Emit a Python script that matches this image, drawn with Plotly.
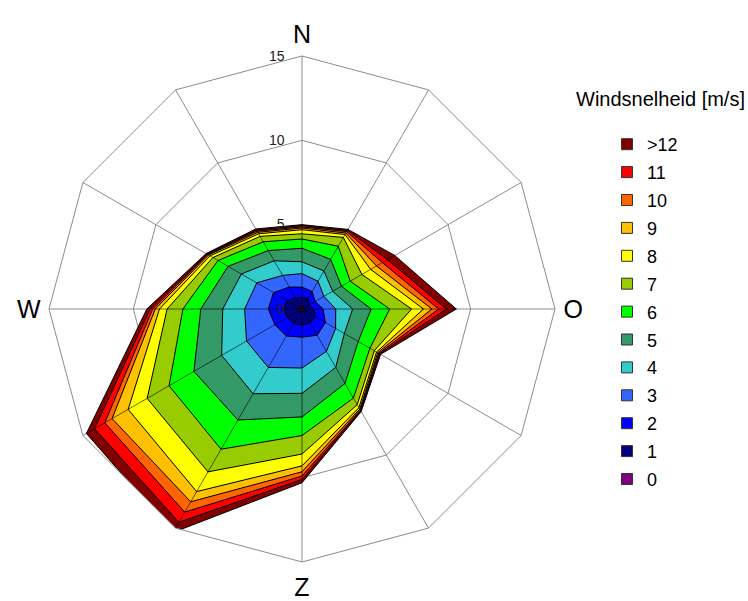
import plotly.graph_objects as go

# Directions (clockwise from north, 30 degree sectors)
theta = ["N", "NNO", "ONO", "O", "OZO", "ZZO", "Z", "ZZW", "WZW", "W", "WNW", "NNW"]
dir_labels = ["N", "", "", "O", "", "", "Z", "", "", "W", "", ""]

# Cumulative outer radius of each wind-speed class per direction
ws_0 = [0.15, 0.15, 0.12, 0.15, 0.15, 0.15, 0.15, 0.15, 0.15, 0.18, 0.15, 0.15]
ws_1 = [0.70, 0.70, 0.50, 0.70, 0.90, 0.95, 0.95, 1.00, 1.00, 1.10, 1.00, 0.75]
ws_2 = [1.30, 1.20, 0.90, 1.25, 1.60, 1.80, 1.67, 1.85, 1.86, 2.00, 1.95, 1.50]
ws_3 = [2.10, 1.90, 1.50, 2.00, 2.30, 2.90, 3.50, 4.00, 3.80, 3.40, 3.10, 2.30]
ws_4 = [2.80, 2.60, 2.10, 3.00, 2.90, 4.00, 5.00, 5.80, 5.50, 4.70, 4.15, 3.30]
ws_5 = [3.60, 3.40, 2.70, 4.10, 3.85, 5.10, 6.40, 7.60, 7.40, 6.00, 5.06, 4.00]
ws_6 = [4.15, 4.30, 3.30, 5.20, 4.65, 6.10, 7.50, 9.60, 9.10, 7.06, 5.75, 4.60]
ws_7 = [4.46, 4.90, 4.10, 6.50, 4.95, 6.55, 8.60, 11.15, 10.60, 8.00, 6.10, 4.97]
ws_8 = [4.70, 5.10, 4.70, 7.20, 5.10, 6.75, 9.30, 12.50, 11.90, 8.45, 6.30, 5.15]
ws_9 = [4.80, 5.20, 5.10, 7.70, 5.18, 6.85, 9.65, 13.20, 13.00, 8.70, 6.40, 5.25]
ws_10 = [4.87, 5.30, 5.50, 8.10, 5.25, 6.92, 9.90, 13.90, 13.50, 8.85, 6.45, 5.33]
ws_11 = [4.94, 5.38, 5.85, 8.55, 5.31, 6.97, 10.10, 14.60, 14.20, 9.00, 6.50, 5.40]
ws_12 = [5.00, 5.45, 6.35, 9.15, 5.38, 7.02, 10.30, 15.30, 14.76, 9.20, 6.57, 5.48]

class_labels = [">12", "11", "10", "9", "8", "7", "6", "5", "4", "3", "2", "1", "0"]
class_values = [ws_12, ws_11, ws_10, ws_9, ws_8, ws_7, ws_6, ws_5, ws_4, ws_3, ws_2, ws_1, ws_0]
class_colors = ["#800000", "#FF0000", "#FF6600", "#FFC000", "#FFFF00", "#99CC00",
                "#00FF00", "#339966", "#33CCCC", "#3366FF", "#0000FF", "#000080", "#800080"]

radial_ticks = [0, 5, 10, 15]

FONT = "Arial, Liberation Sans, sans-serif"
GRID = "#8c8c8c"

fig = go.Figure()

# Filled layers, outermost first
for lab, vals, col in zip(class_labels, class_values, class_colors):
    fig.add_trace(go.Scatterpolar(
        r=vals + [vals[0]], theta=theta + [theta[0]],
        mode="lines", fill="toself", fillcolor=col,
        line=dict(color="black", width=1),
        showlegend=False, hoverinfo="skip"))

# Spokes over the filled area
sr, st = [], []
for t, v in zip(theta, ws_12):
    sr += [0, v, None]
    st += [t, t, None]
fig.add_trace(go.Scatterpolar(r=sr, theta=st, mode="lines",
                              line=dict(color="rgba(0,0,0,0.75)", width=0.8),
                              showlegend=False, hoverinfo="skip"))

# Legend entries
for lab, col in zip(class_labels, class_colors):
    fig.add_trace(go.Scatterpolar(
        r=[None], theta=[None], mode="markers", name=lab, legendgroup=lab,
        marker=dict(symbol="square", size=11, color=col,
                    line=dict(color="#333333", width=1))))

fig.update_layout(
    width=748, height=601,
    margin=dict(l=0, r=0, t=0, b=0),
    paper_bgcolor="white",
    font=dict(family=FONT, color="black"),
    polar=dict(
        domain=dict(x=[49 / 748, 555 / 748], y=[1 - 562 / 601, 1 - 56 / 601]),
        gridshape="linear",
        bgcolor="white",
        angularaxis=dict(
            type="category", categoryorder="array", categoryarray=theta,
            rotation=90, direction="clockwise",
            tickmode="array", tickvals=theta, ticktext=dir_labels,
            showline=True, linecolor=GRID, linewidth=1,
            gridcolor=GRID, gridwidth=1,
            ticks="outside", ticklen=3, tickcolor="rgba(0,0,0,0)",
            tickfont=dict(size=25, family=FONT, color="black")),
        radialaxis=dict(
            range=[0, 15], tickmode="array", tickvals=radial_ticks,
            angle=90, side="counterclockwise", showline=False, tickangle=90,
            gridcolor=GRID, gridwidth=1,
            ticks="outside", ticklen=12, tickcolor="rgba(0,0,0,0)",
            tickfont=dict(size=14, family=FONT, color="#222222")),
    ),
    legend=dict(
        x=607 / 748, y=1 - 126 / 601, xanchor="left", yanchor="top",
        font=dict(size=18, family=FONT, color="black"),
        tracegroupgap=1.5, itemsizing="trace", maxheight=1,
        bgcolor="rgba(0,0,0,0)"),
    annotations=[dict(
        text="Windsnelheid [m/s]", xref="paper", yref="paper",
        x=747 / 748, y=1 - 99 / 601, xanchor="right", yanchor="middle",
        showarrow=False, font=dict(size=20, family=FONT, color="black"))],
)

fig.write_html("out.html",
               config={"displayModeBar": False},
               post_script="document.body.style.margin='0px';document.body.style.padding='0px';")
